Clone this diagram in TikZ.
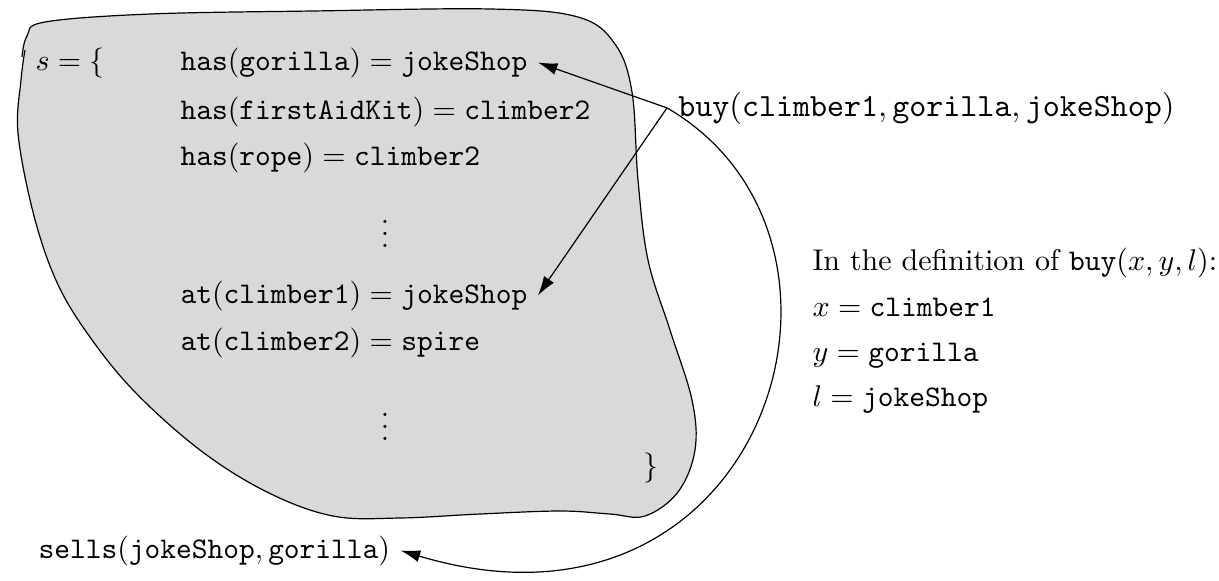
\documentclass[tikz,border=0pt]{standalone}
\usepackage{amsmath}
\usetikzlibrary{arrows.meta}
\newcommand{\tn}[1]{\mathtt{#1}}

\begin{document}
\begin{tikzpicture}[x=0.1172mm,y=-0.1172mm,
  fact/.style={anchor=base west},
  link/.style={-{Latex[length=6.5pt,width=4pt]}},
  blob/.style={draw,fill=black!15,line join=round}]
\useasboundingbox (0,0) rectangle (1219,580);
% the state s as a blob
\filldraw[blob] plot[smooth,tension=0.6] coordinates {(22,57) (27,36) (45,22) (150,14) (312,11) (491,9) (578,17) (615,44) (632,92) (638,180) (648,260) (670,330) (692,400) (695,450) (678,492) (645,516) (610,514) (560,511) (480,514) (400,518) (333,516) (267,492) (200,450) (133,390) (85,330) (55,278) (33,212) (18,133) (21,80) (25,50)};

% facts in the state
\node[fact] (s) at (25,70) {$s = \{$};
\node[fact] (g1) at (170,70) {$\tn{has}(\tn{gorilla}) = \tn{jokeShop}$};
\node[fact] (g2) at (170,119) {$\tn{has}(\tn{firstAidKit}) = \tn{climber2}$};
\node[fact] (g3) at (170,165) {$\tn{has}(\tn{rope}) = \tn{climber2}$};
\node (dots1) at (385,225) {$\vdots$};
\node[fact] (a1) at (170,303) {$\tn{at}(\tn{climber1}) = \tn{jokeShop}$};
\node[fact] (a2) at (170,350) {$\tn{at}(\tn{climber2}) = \tn{spire}$};
\node (dots2) at (385,418) {$\vdots$};
\node[fact] (close) at (633,475) {$\}$};

% action and precondition
\node[fact,scale=1.08] (buy) at (667,116) {$\tn{buy}(\tn{climber1}, \tn{gorilla}, \tn{jokeShop})$};
\node[fact] (sells) at (28,558) {$\tn{sells}(\tn{jokeShop}, \tn{gorilla})$};

% bindings
\node[fact] (defn) at (802,270) {In the definition of $\tn{buy}(x, y, l)$:};
\node[fact] (xval) at (802,316) {$x = \tn{climber1}$};
\node[fact] (yval) at (802,361) {$y = \tn{gorilla}$};
\node[fact] (lval) at (802,406) {$l = \tn{jokeShop}$};

\draw[link] (buy.west) -- (g1.east);
\draw[link] (buy.west) -- (a1.east);
\draw[link] (buy.west) .. controls (895,240) and (765,660) .. (sells.east);
\end{tikzpicture}
\end{document}
